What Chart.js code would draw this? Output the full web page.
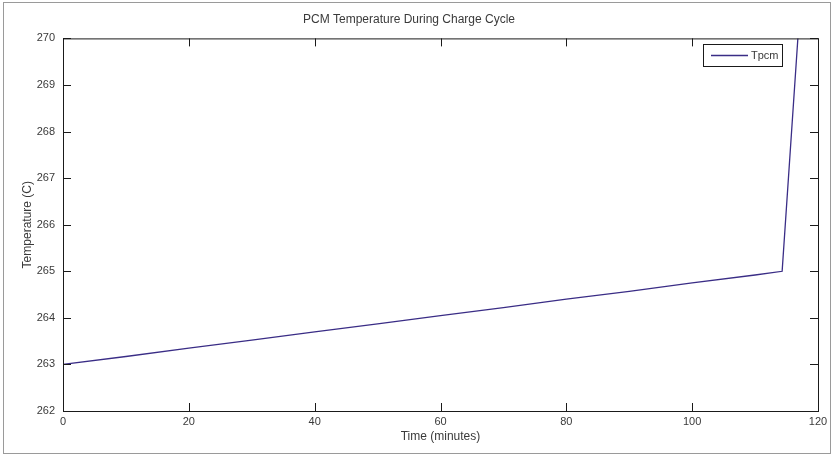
<!DOCTYPE html>
<html>
<head>
<meta charset="utf-8">
<script src="https://cdn.jsdelivr.net/npm/chart.js@4/dist/chart.umd.min.js"></script>
<style>
    html, body { margin: 0; padding: 0; background: #fff; }
    #wrap { position: relative; width: 837px; height: 462px; }
    #frame { position: absolute; left: 3px; top: 2px; width: 826px; height: 450px; border: 1px solid #9a9a9a; pointer-events: none; }
</style>
</head>
<body>
<div id="wrap">
    <canvas id="pcmChart" width="837" height="462"></canvas>
    <div id="frame"></div>
</div>
<script>
// data
const timeMin = [0, 10, 20, 30, 40, 50, 60, 70, 80, 90, 100, 110, 114.3, 120];
const tempC = [263.0, 263.17, 263.35, 263.52, 263.70, 263.87, 264.05, 264.22, 264.40, 264.57, 264.75, 264.92, 265.0, 276.4];
const xTicks = [0, 20, 40, 60, 80, 100, 120];
const yTicks = [262, 263, 264, 265, 266, 267, 268, 269, 270];
const xTitle = 'Time (minutes)';
const yTitle = 'Temperature (C)';

const lineColor = '#3a2d86';
const textColor = '#3a3a3a';
const fontFam = '"Liberation Sans", Arial, sans-serif';

// box around the axes + inward ticks, matlab style
const boxPlugin = {
    id: 'boxTicks',
    afterDraw(chart) {
        const { ctx, chartArea: a, scales } = chart;
        const len = 8;
        ctx.save();
        ctx.strokeStyle = '#1a1a1a';
        ctx.lineWidth = 1;
        ctx.strokeRect(a.left + 0.5, a.top + 0.5, a.right - a.left, a.bottom - a.top);
        ctx.beginPath();
        xTicks.forEach(v => {
            const px = Math.round(scales.x.getPixelForValue(v)) + 0.5;
            ctx.moveTo(px, a.bottom); ctx.lineTo(px, a.bottom - len);
            ctx.moveTo(px, a.top); ctx.lineTo(px, a.top + len);
        });
        yTicks.forEach(v => {
            const py = Math.round(scales.y.getPixelForValue(v)) + 0.5;
            ctx.moveTo(a.left, py); ctx.lineTo(a.left + len, py);
            ctx.moveTo(a.right, py); ctx.lineTo(a.right - len, py);
        });
        ctx.stroke();

        // axis titles
        ctx.fillStyle = textColor;
        ctx.font = '12px ' + fontFam;
        ctx.textAlign = 'center';
        ctx.textBaseline = 'middle';
        ctx.fillText(xTitle, (a.left + a.right) / 2, 437);
        ctx.save();
        ctx.translate(28, (a.top + a.bottom) / 2);
        ctx.rotate(-Math.PI / 2);
        ctx.fillText(yTitle, 0, 0);
        ctx.restore();

        // legend box in the top right corner
        const lx = 703, ly = 44, lw = 79, lh = 22;
        ctx.fillStyle = '#fff';
        ctx.fillRect(lx, ly, lw, lh);
        ctx.strokeStyle = '#1a1a1a';
        ctx.strokeRect(lx + 0.5, ly + 0.5, lw, lh);
        ctx.strokeStyle = lineColor;
        ctx.lineWidth = 1.3;
        ctx.beginPath();
        ctx.moveTo(lx + 8, ly + 11.5);
        ctx.lineTo(lx + 45, ly + 11.5);
        ctx.stroke();
        ctx.fillStyle = textColor;
        ctx.font = '11px ' + fontFam;
        ctx.textAlign = 'left';
        ctx.fillText(chart.data.datasets[0].label, lx + 48, ly + 12);
        ctx.restore();
    }
};

const ctx = document.getElementById('pcmChart').getContext('2d');
new Chart(ctx, {
    type: 'line',
    data: {
        datasets: [{
            label: 'Tpcm',
            data: timeMin.map((t, i) => ({ x: t, y: tempC[i] })),
            borderColor: lineColor,
            borderWidth: 1.3,
            pointRadius: 0,
            tension: 0,
            fill: false
        }]
    },
    options: {
        responsive: false,
        animation: false,
        layout: { padding: { left: 0, right: 19, top: 0, bottom: 0 } },
        plugins: {
            legend: { display: false },
            tooltip: { enabled: false },
            title: {
                display: true,
                text: 'PCM Temperature During Charge Cycle',
                color: textColor,
                font: { family: fontFam, size: 12, weight: 'normal' },
                padding: { top: 12, bottom: 12 }
            }
        },
        scales: {
            x: {
                type: 'linear',
                min: 0,
                max: 120,
                afterBuildTicks: s => { s.ticks = xTicks.map(v => ({ value: v })); },
                grid: { display: false, drawTicks: false },
                border: { display: false },
                ticks: {
                    color: textColor,
                    padding: 4,
                    maxRotation: 0,
                    font: { family: fontFam, size: 11 }
                },
                afterFit: s => { s.height = 51; }
            },
            y: {
                min: 262,
                max: 270,
                afterBuildTicks: s => { s.ticks = yTicks.map(v => ({ value: v })); },
                grid: { display: false, drawTicks: false },
                border: { display: false },
                ticks: {
                    color: textColor,
                    padding: 8,
                    font: { family: fontFam, size: 11 }
                },
                afterFit: s => { s.width = 63; }
            }
        }
    },
    plugins: [boxPlugin]
});
</script>
</body>
</html>
